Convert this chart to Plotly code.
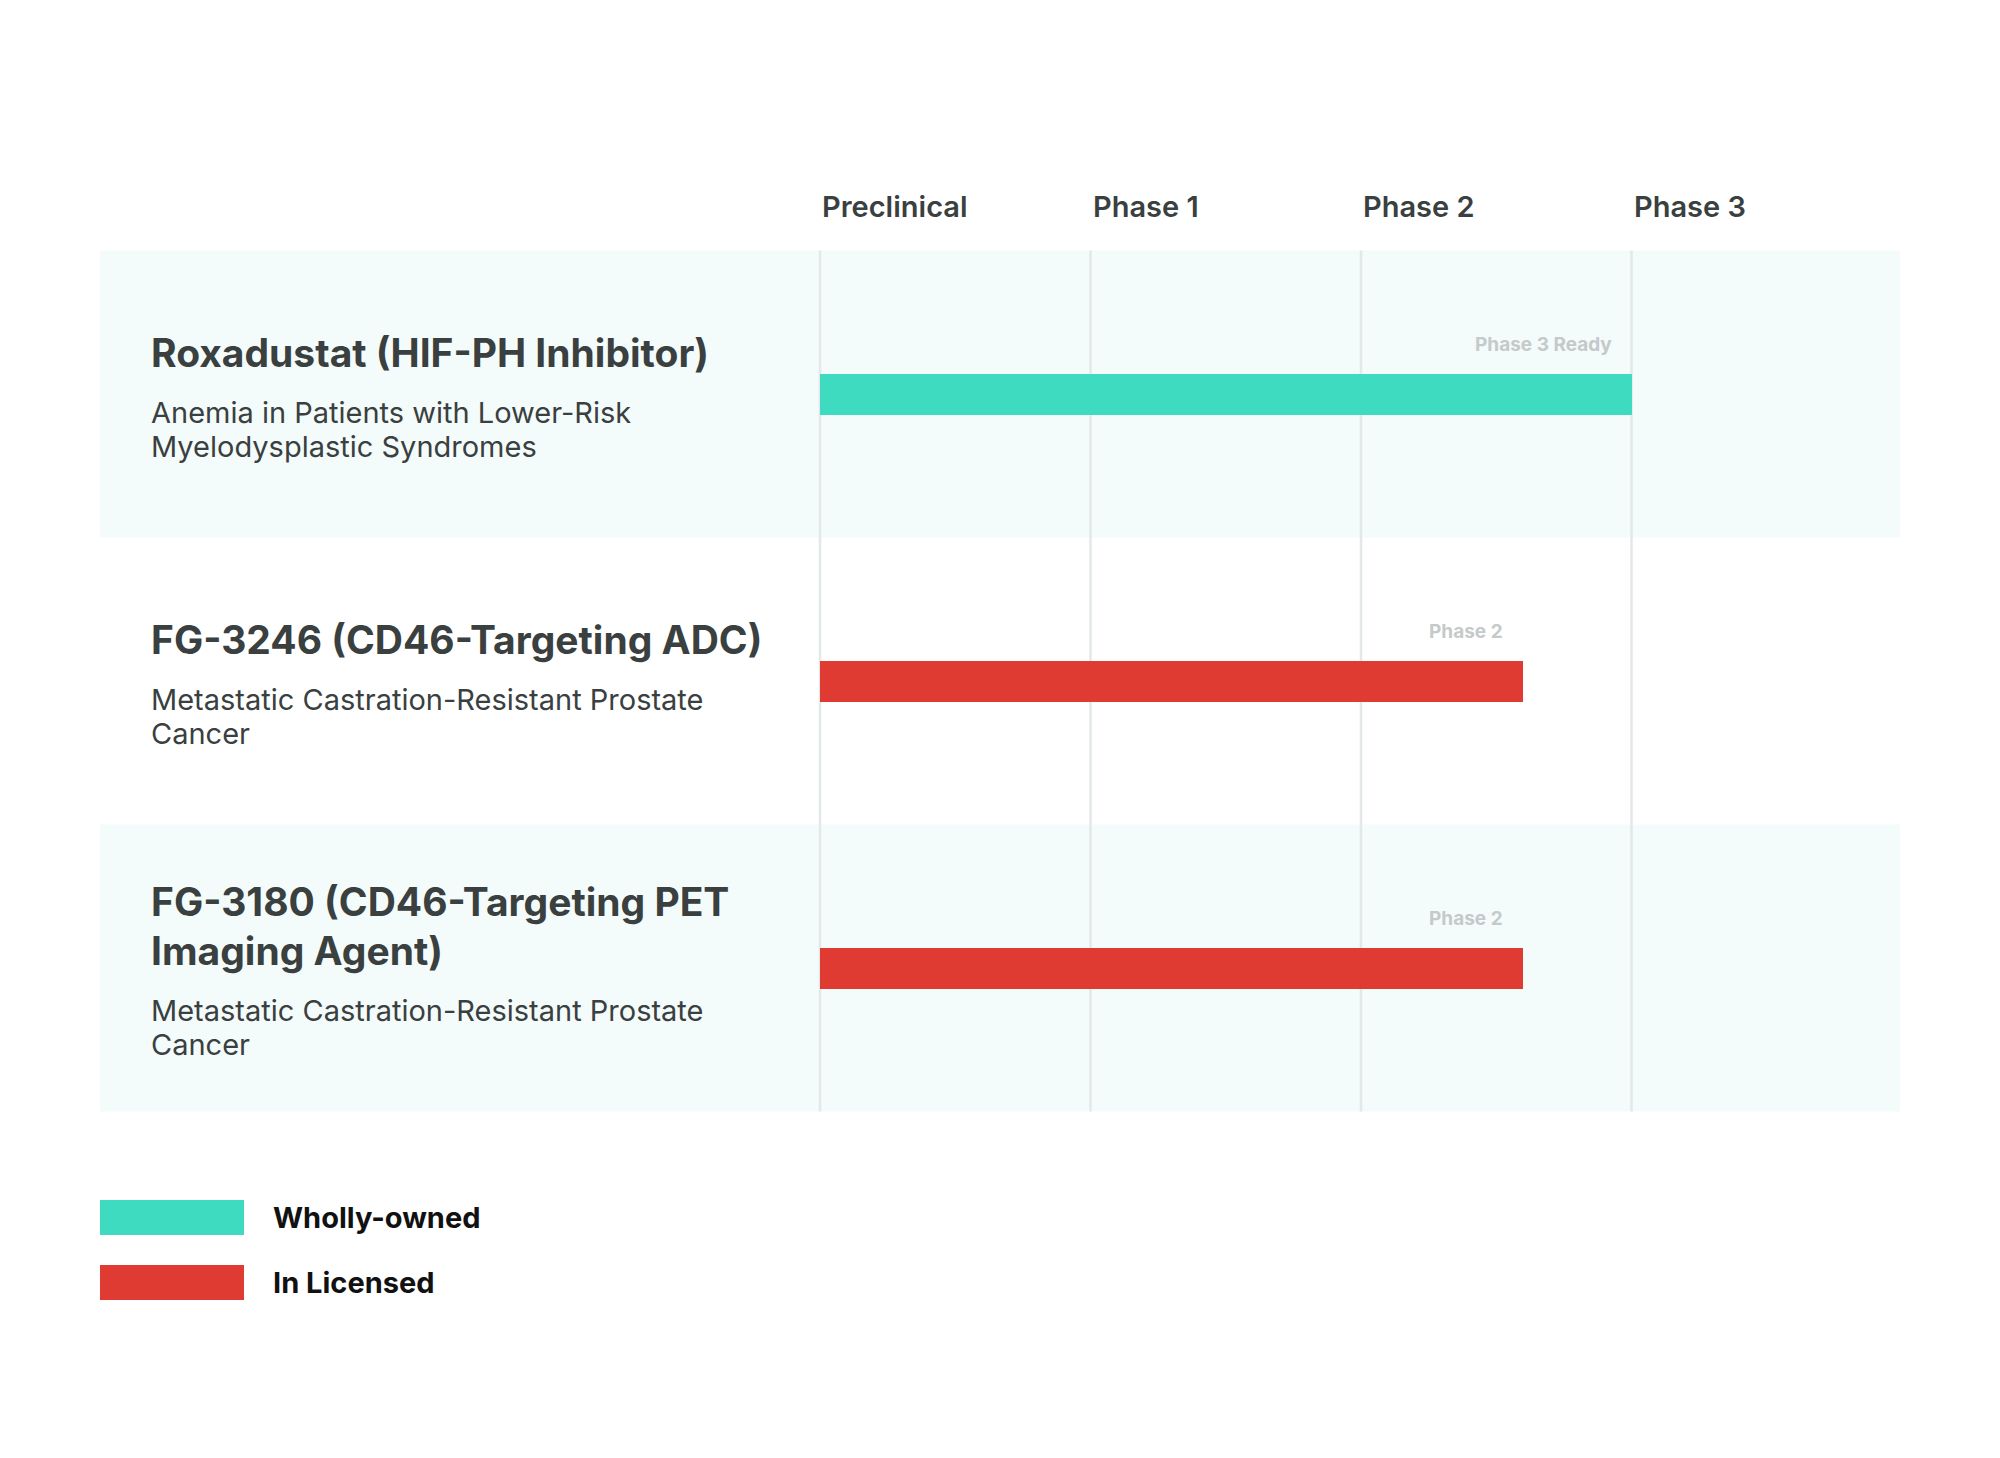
import plotly.graph_objects as go

# ---------------- data ----------------
phases = ["Preclinical", "Phase 1", "Phase 2", "Phase 3"]
programs = [
    "Roxadustat (HIF-PH Inhibitor)",
    "FG-3246 (CD46-Targeting ADC)",
    "FG-3180 (CD46-Targeting PET<br>Imaging Agent)",
]
indications = [
    "Anemia in Patients with Lower-Risk<br>Myelodysplastic Syndromes",
    "Metastatic Castration-Resistant Prostate<br>Cancer",
    "Metastatic Castration-Resistant Prostate<br>Cancer",
]
progress = [3.0, 2.6, 2.6]          # in phase units from start of Preclinical
status_labels = ["Phase 3 Ready", "Phase 2", "Phase 2"]
ownership = ["Wholly-owned", "In Licensed", "In Licensed"]
legend_items = ["Wholly-owned", "In Licensed"]
colors = {"Wholly-owned": "#3fdbc0", "In Licensed": "#e03b33"}

# ---------------- layout geometry ----------------
W, H = 2000, 1458
X0_PX, PHASE_PX = 820, 270.5       # pixel of phase 0 and width of one phase
ROW0_PX, ROW_PX = 394, 287         # pixel centre of first row, row pitch
FONT = "Inter"
TEXT_DARK = "#3a3f3f"

rows = list(range(len(programs)))

fig = go.Figure()

for own in legend_items:
    idx = [i for i in rows if ownership[i] == own]
    fig.add_trace(go.Bar(
        x=[progress[i] for i in idx],
        y=idx,
        base=0,
        orientation="h",
        width=41 / ROW_PX,
        marker=dict(color=colors[own], line=dict(width=0)),
        name=own,
        showlegend=False,
        hoverinfo="skip",
    ))

shapes = []
# row bands (alternating)
for i in rows:
    if i % 2 == 0:
        shapes.append(dict(type="rect", layer="below", xref="paper", yref="y",
                           x0=0.05, x1=0.95, y0=i - 0.5, y1=i + 0.5,
                           fillcolor="#f3fbfb", line=dict(width=0)))
# phase grid lines
for k in range(len(phases)):
    shapes.append(dict(type="line", layer="below", xref="x", yref="y",
                       x0=k, x1=k, y0=-0.5, y1=len(rows) - 0.5,
                       line=dict(color="#e3e8e8", width=2.5)))

# legend swatches
legend_y_px = [1200, 1265]
for j, own in enumerate(legend_items):
    y0 = 1 - (legend_y_px[j] + 35) / H
    y1 = 1 - legend_y_px[j] / H
    shapes.append(dict(type="rect", xref="paper", yref="paper",
                       x0=100 / W, x1=244 / W, y0=y0, y1=y1,
                       fillcolor=colors[own], line=dict(width=0)))

annotations = []
# phase headers
for k, p in enumerate(phases):
    annotations.append(dict(x=k, y=1 - 207 / H, xref="x", yref="paper",
                            text=p, showarrow=False, xanchor="left", yanchor="middle",
                            font=dict(family=FONT, size=29, color=TEXT_DARK, weight=600)))

TITLE_PITCH, GAP, SUB_PITCH, BLOCK_CENTER = 49.5, 60, 34, 5
for i in rows:
    t_lines = programs[i].split("<br>")
    s_lines = indications[i].split("<br>")
    offs_t = [TITLE_PITCH * n for n in range(len(t_lines))]
    first_sub = offs_t[-1] + GAP
    offs_s = [first_sub + SUB_PITCH * n for n in range(len(s_lines))]
    shift = BLOCK_CENTER - (offs_t[0] + offs_s[-1]) / 2
    for line, off in zip(t_lines, offs_t):
        annotations.append(dict(x=149 / W, y=i, xref="paper", yref="y",
                                text=line, showarrow=False,
                                xanchor="left", yanchor="middle",
                                yshift=-(off + shift),
                                font=dict(family=FONT, size=39, color=TEXT_DARK, weight=700)))
    for line, off in zip(s_lines, offs_s):
        annotations.append(dict(x=149 / W, y=i, xref="paper", yref="y",
                                text=line, showarrow=False,
                                xanchor="left", yanchor="middle",
                                yshift=-(off + shift),
                                font=dict(family=FONT, size=29, color=TEXT_DARK, weight=400)))
    # status label above bar end
    annotations.append(dict(x=progress[i], y=i, xref="x", yref="y",
                            text=status_labels[i], showarrow=False,
                            xanchor="right", yanchor="middle",
                            xshift=-18, yshift=50,
                            font=dict(family=FONT, size=19, color="#c4c9c9", weight=700)))

# legend labels
for j, own in enumerate(legend_items):
    annotations.append(dict(x=271 / W, y=1 - (legend_y_px[j] + 17) / H,
                            xref="paper", yref="paper", text=own, showarrow=False,
                            xanchor="left", yanchor="middle",
                            font=dict(family=FONT, size=29, color="#111111", weight=700)))

fig.update_layout(
    width=W, height=H,
    margin=dict(l=0, r=0, t=0, b=0),
    paper_bgcolor="white", plot_bgcolor="white",
    xaxis=dict(range=[-X0_PX / PHASE_PX, (W - X0_PX) / PHASE_PX], visible=False, fixedrange=True),
    yaxis=dict(range=[(H - ROW0_PX) / ROW_PX, -ROW0_PX / ROW_PX], visible=False, fixedrange=True),
    shapes=shapes,
    annotations=annotations,
    bargap=0,
)

fig.write_html("out.html")
